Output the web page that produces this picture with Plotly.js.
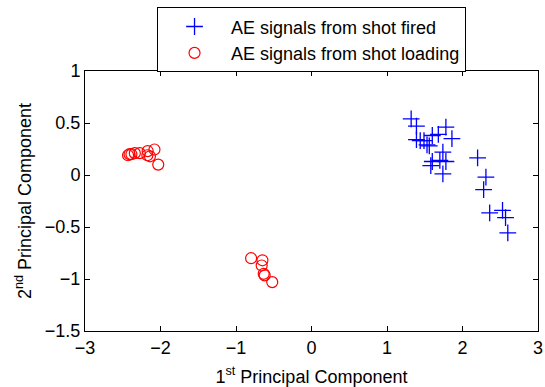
<!DOCTYPE html>
<html>
<head>
<meta charset="utf-8">
<script src="https://cdn.plot.ly/plotly-3.0.1.min.js"></script>
<style>html,body{margin:0;padding:0;background:#fff;}#chart{width:545px;height:387px;}</style>
</head>
<body>
<div id="chart"></div>
<script>
var firedX = [1.32, 1.39, 1.78, 1.68, 1.60, 1.86, 1.39, 1.44, 1.49, 1.53, 1.56, 1.74, 1.60, 1.70, 1.78, 1.58, 1.74, 2.20, 2.31, 2.28, 2.36, 2.53, 2.57, 2.60];
var firedY = [0.54, 0.47, 0.46, 0.39, 0.38, 0.35, 0.34, 0.33, 0.33, 0.29, 0.28, 0.22, 0.13, 0.14, 0.13, 0.09, 0.01, 0.165, -0.02, -0.14, -0.365, -0.34, -0.41, -0.556];
var loadX = [-2.43, -2.41, -2.385, -2.34, -2.275, -2.17, -2.174, -2.14, -2.08, -2.03, -0.80, -0.65, -0.66, -0.633, -0.62, -0.52];
var loadY = [0.19, 0.20, 0.20, 0.21, 0.21, 0.23, 0.19, 0.18, 0.245, 0.10, -0.80, -0.82, -0.87, -0.95, -0.965, -1.03];
var seriesNames = ['AE signals from shot fired', 'AE signals from shot loading'];

var traces = [
  {x: firedX, y: firedY, name: seriesNames[0], mode: 'markers', type: 'scatter',
   marker: {symbol: 'cross-thin-open', size: 12, color: '#0000ff', line: {color: '#0000ff', width: 1.3}}},
  {x: loadX, y: loadY, name: seriesNames[1], mode: 'markers', type: 'scatter',
   marker: {symbol: 'circle-open', size: 11, color: '#ff0000', line: {color: '#ff0000', width: 1.2}}}
];

function mkFont(s) { return {family: 'Liberation Sans, Arial, Helvetica, sans-serif', size: s, color: '#000'}; }
function axisCommon() {
  return {
    showline: true, linecolor: '#000', linewidth: 1, mirror: 'ticks',
    ticks: 'inside', ticklen: 5, tickcolor: '#000', tickwidth: 1,
    showgrid: false, zeroline: false, tickfont: mkFont(18), automargin: false
  };
}
var layout = {
  width: 545, height: 387,
  margin: {l: 85, r: 7, t: 69, b: 56, pad: 0},
  paper_bgcolor: '#fff', plot_bgcolor: '#fff',
  font: mkFont(18),
  showlegend: true,
  legend: {x: 0.159, y: 1.245, xanchor: 'left', yanchor: 'top', bgcolor: '#fff',
           bordercolor: '#000', borderwidth: 1, font: mkFont(18), tracegroupgap: 0,
           itemwidth: 63},
  xaxis: Object.assign(axisCommon(), {range: [-3, 3], tickvals: [-3, -2, -1, 0, 1, 2, 3],
    ticktext: ['\u22123', '\u22122', '\u22121', '0', '1', '2', '3'],
    title: {text: '1<sup>st</sup> Principal Component', font: mkFont(18), standoff: 14}}),
  yaxis: Object.assign(axisCommon(), {range: [-1.5, 1], tickvals: [-1.5, -1, -0.5, 0, 0.5, 1],
    ticktext: ['\u22121.5', '\u22121', '\u22120.5', '0', '0.5', '1'],
    title: {text: '2<sup>nd</sup> Principal Component', font: mkFont(18), standoff: 8}})
};
Plotly.newPlot('chart', traces, layout, {displayModeBar: false, staticPlot: true});
</script>
</body>
</html>
